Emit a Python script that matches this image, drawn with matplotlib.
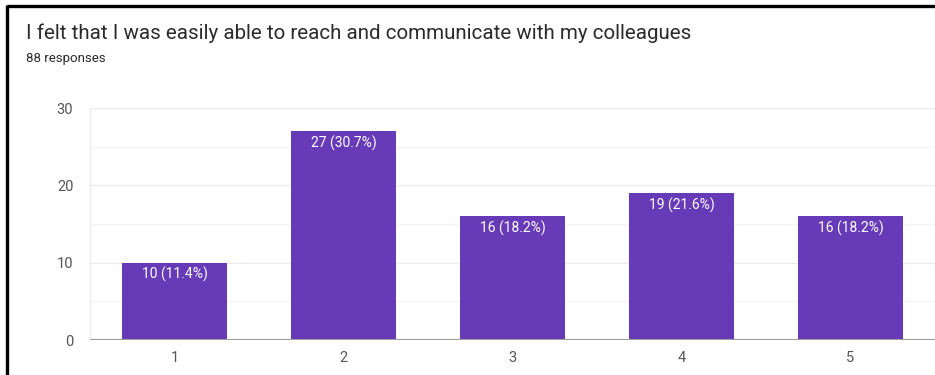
import matplotlib
matplotlib.use("Agg")
import matplotlib.pyplot as plt
from matplotlib.lines import Line2D

title = "I felt that I was easily able to reach and communicate with my colleagues"
subtitle = "88 responses"
categories = ["1", "2", "3", "4", "5"]
counts = [10, 27, 16, 19, 16]
percents = [11.4, 30.7, 18.2, 21.6, 18.2]
y_ticks = [0, 10, 20, 30]

W, H = 935, 375
fig = plt.figure(figsize=(W / 100, H / 100), dpi=100)
plt.rcParams['font.family'] = ['Roboto', 'DejaVu Sans']

# page frame: left and top edges
fig.add_artist(Line2D([7 / W, 7 / W], [0, 1 - 5 / H], color="black", lw=2.4,
                      transform=fig.transFigure, solid_capstyle="butt"))
fig.add_artist(Line2D([7 / W, 1], [1 - 6 / H, 1 - 6 / H], color="black", lw=2.4,
                      transform=fig.transFigure, solid_capstyle="butt"))

fig.text(26 / W, 1 - 39 / H, title, fontsize=14.8, color="#2b2b2b", va="baseline")
fig.text(26 / W, 1 - 62 / H, subtitle, fontsize=9.5, color="#2b2b2b", va="baseline")

left, right = 90 / W, 1.0
bottom, top = 1 - 340 / H, 1 - 108 / H
ax = fig.add_axes([left, bottom, right - left, top - bottom])

x = list(range(1, len(categories) + 1))
bars = ax.bar(x, counts, width=0.62, color="#673ab7", zorder=3)

ax.set_xlim(0.5, 5.5)
ax.set_ylim(0, 30)

# gridlines: major every 10, minor every 5
for v in range(5, 31, 5):
    ax.axhline(v, color="#ebebeb" if v % 10 == 0 else "#f4f4f4", lw=1, zorder=1)
ax.axvline(0.5, color="#ebebeb", lw=1, zorder=1)
ax.axhline(0, color="#9e9e9e", lw=1.5, zorder=4)

for s in ax.spines.values():
    s.set_visible(False)
ax.set_yticks(y_ticks)
ax.set_yticklabels([str(v) for v in y_ticks])
ax.set_xticks(x)
ax.set_xticklabels(categories)
ax.tick_params(axis="both", length=0, labelsize=10.5, labelcolor="#555555")
ax.tick_params(axis="y", pad=12)
ax.tick_params(axis="x", pad=8)

for rect, c, p in zip(bars, counts, percents):
    ax.annotate(f"{c} ({p}%)", (rect.get_x() + rect.get_width() / 2, c),
                xytext=(0, -3), textcoords="offset points", ha="center", va="top",
                color="white", fontsize=10, zorder=5)

fig.savefig("out.png", dpi=100, facecolor="white")
